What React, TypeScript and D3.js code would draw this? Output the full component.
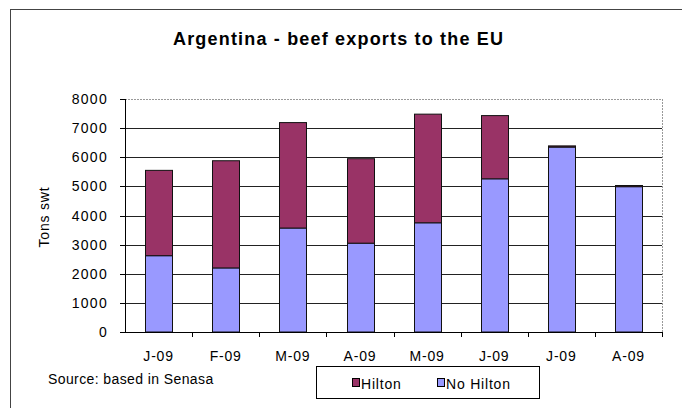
import React from "react";
import * as d3 from "d3";

const categories = ["J-09", "F-09", "M-09", "A-09", "M-09 ", "J-09 ", "J-09  ", "A-09 "];
const noHilton = [2620, 2200, 3570, 3050, 3750, 5260, 6350, 4990];
const hilton = [2930, 3680, 3620, 2900, 3730, 2170, 40, 40];
const yTicks = [0, 1000, 2000, 3000, 4000, 5000, 6000, 7000, 8000];
const seriesNames = ["Hilton", "No Hilton"];

const W = 682;
const H = 408;
const left = 125;
const right = 662;
const top = 99;
const bottom = 332;
const HILTON = "#993366";
const NOHILTON = "#9999FF";
const FONT = "'Liberation Sans', Arial, sans-serif";

export default function App() {
  const x = d3.scaleBand<string>().domain(categories).range([left, right]).paddingInner(0.6).paddingOuter(0.3);
  const y = d3.scaleLinear().domain([0, 8000]).range([bottom, top]);
  const step = x.step();
  const rows = categories.map((c, i) => ({ c, nh: noHilton[i], h: hilton[i] }));

  return (
    <svg width={W} height={H} style={{ position: "absolute", left: 0, top: 0, display: "block", background: "#fff" }}>
      <rect x={10.5} y={9.5} width={700} height={420} fill="#fff" stroke="#444" strokeWidth={1} />
      <text x={338} y={45} textAnchor="middle" fontFamily={FONT} fontWeight="bold" fontSize={18} textLength={330} lengthAdjust="spacing" fill="#000">
        Argentina - beef exports to the EU
      </text>
      {/* gridlines */}
      {yTicks.filter((t) => t > 0 && t < 8000).map((t) => (
        <line key={t} x1={left} x2={right} y1={Math.round(y(t)) + 0.5} y2={Math.round(y(t)) + 0.5} stroke="#222" strokeWidth={1} />
      ))}
      {/* plot border top and right */}
      <line x1={left} x2={right} y1={Math.round(y(8000)) + 0.5} y2={Math.round(y(8000)) + 0.5} stroke="#999" strokeDasharray="2,1" />
      <line x1={right + 0.5} x2={right + 0.5} y1={top} y2={bottom} stroke="#999" strokeDasharray="2,1" />
      {/* bars */}
      {rows.map((r) => {
        const bx = Math.round(x(r.c)!) + 0.5;
        const bw = Math.round(x.bandwidth());
        const y0 = y(0);
        const y1 = y(r.nh);
        const y2 = y(r.nh + r.h);
        return (
          <g key={r.c}>
            <rect x={bx} y={y1} width={bw} height={y0 - y1} fill={NOHILTON} stroke="#111" strokeWidth={1} />
            <rect x={bx} y={y2} width={bw} height={y1 - y2} fill={HILTON} stroke="#111" strokeWidth={1} />
          </g>
        );
      })}
      {/* y axis */}
      <line x1={left + 0.5} x2={left + 0.5} y1={top} y2={bottom + 1} stroke="#000" />
      {yTicks.map((t) => (
        <g key={t}>
          <line x1={left - 5} x2={left} y1={Math.round(y(t)) + 0.5} y2={Math.round(y(t)) + 0.5} stroke="#000" />
          <text x={108} y={y(t) + 5} textAnchor="end" fontFamily={FONT} fontSize={14} letterSpacing={1.3} fill="#000">
            {t}
          </text>
        </g>
      ))}
      {/* x axis */}
      <line x1={left} x2={right + 1} y1={Math.round(y(0)) + 0.5} y2={Math.round(y(0)) + 0.5} stroke="#000" />
      {categories.map((c, i) => (
        <g key={c}>
          <line x1={Math.round(left + step * (i + 1)) + 0.5} x2={Math.round(left + step * (i + 1)) + 0.5} y1={bottom} y2={bottom + 5} stroke="#000" />
          <text x={x(c)! + x.bandwidth() / 2} y={361} textAnchor="middle" fontFamily={FONT} fontSize={14} letterSpacing={0.8} fill="#000">
            {c.trim()}
          </text>
        </g>
      ))}
      <text transform="translate(49,217) rotate(-90)" textAnchor="middle" fontFamily={FONT} fontSize={14} letterSpacing={0.8} fill="#000">
        Tons swt
      </text>
      <text x={48} y={384} fontFamily={FONT} fontSize={14} letterSpacing={0.4} fill="#000">
        Source: based in Senasa
      </text>
      {/* legend */}
      <rect x={316.5} y={366.5} width={223} height={32} fill="#fff" stroke="#000" />
      {seriesNames.map((s, i) => {
        const lx = i === 0 ? 352 : 437;
        return (
          <g key={s}>
            <rect x={lx + 0.5} y={378.5} width={7} height={8} fill={i === 0 ? HILTON : NOHILTON} stroke="#000" />
            <text x={lx + 9} y={389} fontFamily={FONT} fontSize={14} letterSpacing={0.8} fill="#000">
              {s}
            </text>
          </g>
        );
      })}
    </svg>
  );
}
